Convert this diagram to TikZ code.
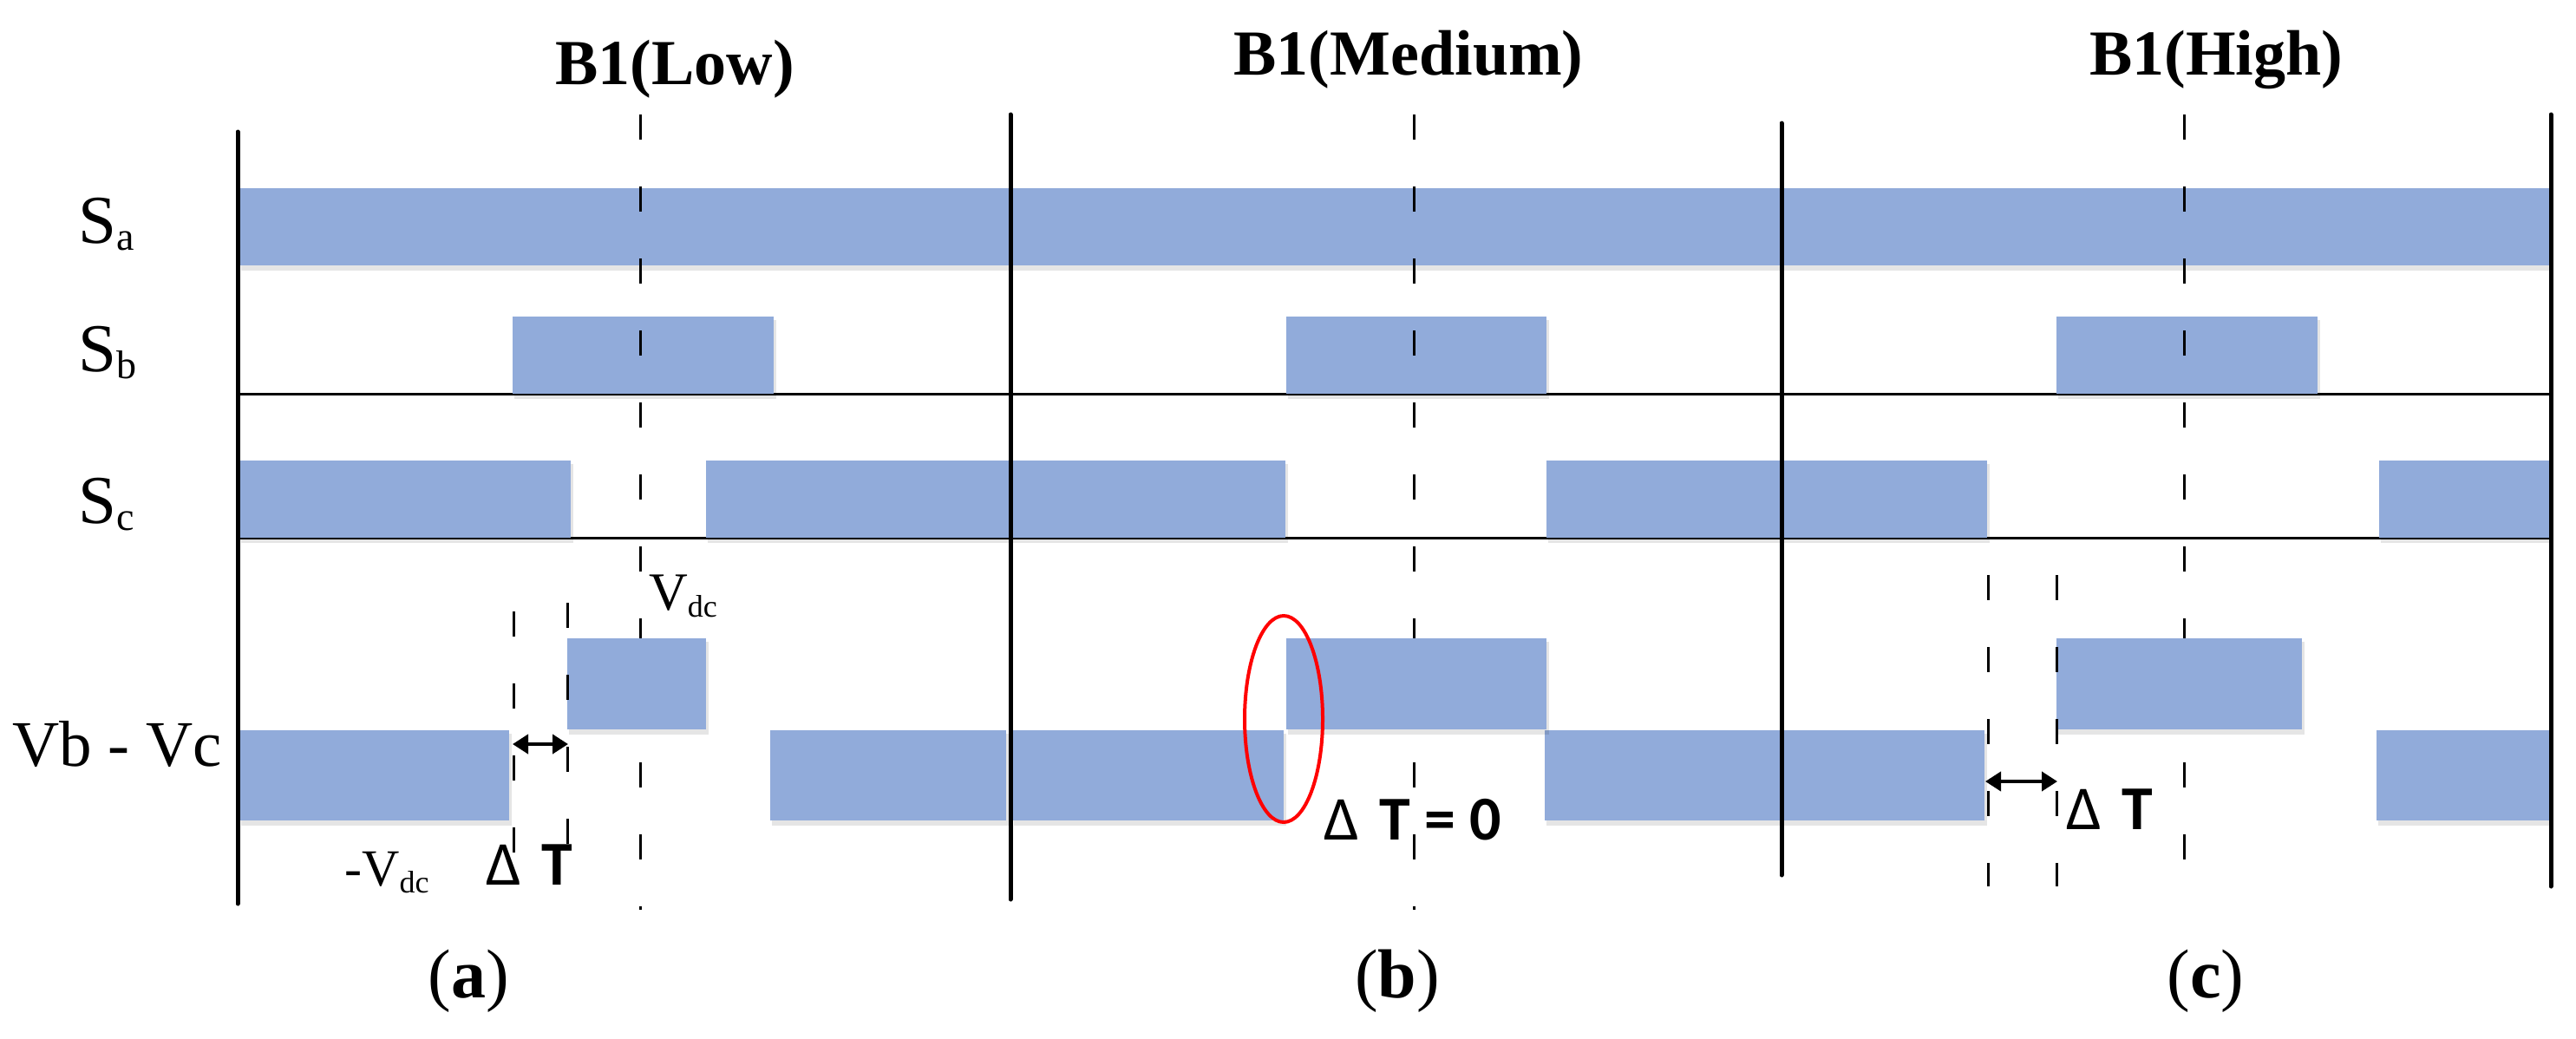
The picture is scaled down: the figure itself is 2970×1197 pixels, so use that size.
\documentclass[tikz,border=0pt]{standalone}
\usepackage{fontspec}
\setmainfont{Liberation Serif}
\newfontfamily\calfont{Carlito}
\usetikzlibrary{arrows.meta}
\definecolor{barblue}{RGB}{145,171,218}
\newcommand\mybar[4]{%
  \fill[black,opacity=0.10] (#1+2,#2+4) rectangle (#3+3,#4+6);
  \fill[barblue] (#1,#2) rectangle (#3,#4);}
\newcommand\subtxt[2]{{\fontsize{#1}{#1}\selectfont\raisebox{-8pt}{#2}}}
\newcommand\dT{{\mdseries Δ}\,\,T}
\newcommand\capt[1]{{\mdseries (}#1{\mdseries )}}
\tikzset{
  axisline/.style={line width=5pt, line cap=round},
  baseline/.style={line width=3pt},
  centerdash/.style={line width=3pt, dash pattern=on 29pt off 54pt},
  dimarrow/.style={line width=4pt, {Triangle[length=18pt,width=22pt]}-{Triangle[length=18pt,width=22pt]}},
  lbl/.style={inner sep=0pt, anchor=base west},
  clbl/.style={inner sep=0pt, anchor=base},
  titletxt/.style={font=\bfseries\fontsize{74}{80}\selectfont},
  dttxt/.style={font=\calfont\bfseries\fontsize{72}{75}\selectfont},
  captxt/.style={font=\bfseries\fontsize{80}{82}\selectfont},
}
\begin{document}
\begin{tikzpicture}[x=1pt,y=-1pt]
\useasboundingbox (0,0) rectangle (2970,1197);
\fill[white] (0,0) rectangle (2970,1197);
% horizontal base lines
\coordinate (sbl) at (276,454); \coordinate (sbr) at (2941,454);
\coordinate (scl) at (276,620); \coordinate (scr) at (2941,620);
\draw[baseline] (sbl) -- (sbr);
\draw[baseline] (scl) -- (scr);
% Sa row
\mybar{276}{217}{2939}{306}
% Sb row
\mybar{591}{365}{892}{454}
\mybar{1483}{365}{1783}{454}
\mybar{2371}{365}{2672}{454}
% Sc row
\mybar{276}{531}{658}{620}
\mybar{814}{531}{1482}{620}
\mybar{1783}{531}{2291}{620}
\mybar{2743}{531}{2939}{620}
% centre dashed lines
\coordinate (da1) at (738,132); \coordinate (da2) at (738,1049);
\coordinate (db1) at (1630,132); \coordinate (db2) at (1630,1049);
\coordinate (dc1) at (2518,132); \coordinate (dc2) at (2518,1045);
\draw[centerdash] (da1) -- (da2);
\draw[centerdash] (db1) -- (db2);
\draw[centerdash] (dc1) -- (dc2);
% Vb - Vc row
\mybar{276}{842}{587}{946}
\mybar{888}{842}{1160}{946}
\mybar{1167}{842}{1480}{946}
\mybar{1781}{842}{2288}{946}
\mybar{2740}{842}{2939}{946}
\mybar{654}{736}{814}{841}
\mybar{1483}{736}{1783}{841}
\mybar{2371}{736}{2654}{841}
% side dashed lines
\coordinate (sa1) at (592,705); \coordinate (sa2) at (592,990);
\coordinate (sa3) at (654,695); \coordinate (sa4) at (654,975);
\coordinate (sc1) at (2292,663); \coordinate (sc2) at (2292,1022);
\coordinate (sc3) at (2371,663); \coordinate (sc4) at (2371,1022);
\draw[centerdash] (sa1) -- (sa2);
\draw[centerdash] (sa3) -- (sa4);
\draw[centerdash] (sc1) -- (sc2);
\draw[centerdash] (sc3) -- (sc4);
% solid vertical lines
\coordinate (v1t) at (274,152); \coordinate (v1b) at (274,1042);
\coordinate (v2t) at (1165,132); \coordinate (v2b) at (1165,1037);
\coordinate (v3t) at (2054,142); \coordinate (v3b) at (2054,1009);
\coordinate (v4t) at (2941,132); \coordinate (v4b) at (2941,1022);
\draw[axisline] (v1t) -- (v1b);
\draw[axisline] (v2t) -- (v2b);
\draw[axisline] (v3t) -- (v3b);
\draw[axisline] (v4t) -- (v4b);
% delta T arrows
\coordinate (aa1) at (591,858); \coordinate (aa2) at (655,858);
\coordinate (ac1) at (2289,901); \coordinate (ac2) at (2372,901);
\draw[dimarrow] (aa1) -- (aa2);
\draw[dimarrow] (ac1) -- (ac2);
% red ellipse
\draw[red, line width=4pt] (1480,829) ellipse [x radius=45, y radius=119];
% titles
\node[clbl, titletxt] (tlow) at (778,97) {B1(Low)};
\node[clbl, titletxt] (tmed) at (1624,86) {B1(Medium)};
\node[clbl, titletxt] (thigh) at (2555,86) {B1(High)};
% row labels
\node[lbl, font=\fontsize{79}{85}\selectfont] (lsa) at (90,280) {S\subtxt{46}{a}};
\node[lbl, font=\fontsize{79}{85}\selectfont] (lsb) at (90,428) {S\subtxt{46}{b}};
\node[lbl, font=\fontsize{79}{85}\selectfont] (lsc) at (90,603) {S\subtxt{46}{c}};
\node[lbl, font=\fontsize{75}{80}\selectfont] (lvbc) at (14,883) {Vb - Vc};
% voltage labels
\node[lbl, font=\fontsize{62}{66}\selectfont] (lvdc) at (748,703) {V\subtxt{36}{dc}};
\node[lbl, font=\fontsize{60}{66}\selectfont] (lnvdc) at (397,1021) {-V\subtxt{36}{dc}};
% delta T labels
\node[lbl, dttxt] (dta) at (560,1020) {\dT};
\node[lbl, dttxt] (dtb) at (1526,968) {\dT{} = 0};
\node[lbl, dttxt] (dtc) at (2382,956) {\dT};
% captions
\node[clbl, captxt] (capa) at (540,1150) {\capt{a}};
\node[clbl, captxt] (capb) at (1611,1150) {\capt{b}};
\node[clbl, captxt] (capc) at (2543,1150) {\capt{c}};
\end{tikzpicture}
\end{document}
